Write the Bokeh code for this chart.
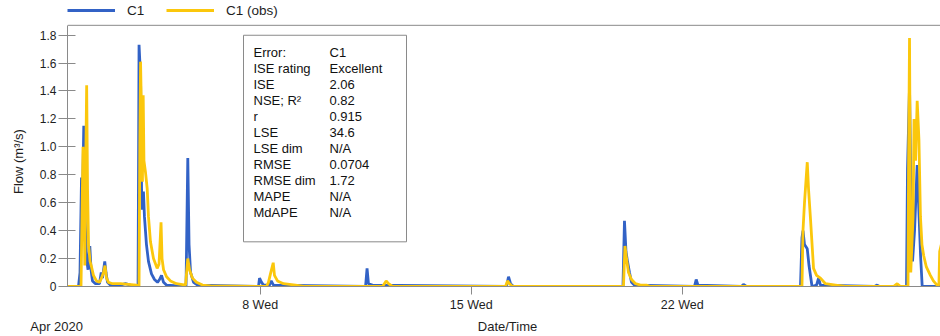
from bokeh.plotting import figure
from bokeh.models import Range1d, FixedTicker, Legend, LegendItem, Span, LinearAxis
from bokeh.core.properties import value
from bokeh.embed import file_html
from bokeh.resources import INLINE

# ---- data (hours since 2020-04-01 00:00, flow m3/s) ----
sim_hours = [15, 23.4, 24.6, 25.8, 26.6, 27.6, 28.6, 29.8, 31.0, 32.4, 33.4, 34.5, 36.9, 40.1, 41.5, 42.5,
             44.3, 45.3, 46.5, 48.9, 56.8, 60.8, 64.8, 70.8, 71.6, 72.8, 73.6, 74.3, 75.1, 75.9, 77.5,
             79.1, 81.5, 83.9, 86.3, 87.9, 89.5, 91.1, 93.4, 109.0, 110.4, 111.4, 112.6, 115.0, 118.2,
             166.7, 167.5, 169.1, 170.7, 175.4, 176.8, 178.6, 251.9, 253.1, 254.2, 257.4, 364.1, 365.7,
             367.3, 369.7, 456.8, 458.0, 459.2, 460.4, 462.0, 463.6, 466.0, 513.7, 515.1, 516.5, 551.1,
             552.7, 555.1, 598.1, 599.3, 600.1, 601.3, 603.5, 604.9, 607.3, 610.9, 612.5, 614.0, 657.0,
             659.1, 661.0, 682.5, 683.3, 684.9, 685.7, 686.5, 687.3, 688.9, 691.0, 692.1, 693.7, 695.0, 712]
sim_flow = [0, 0, 0.1, 0.78, 0.6, 1.15, 0.5, 0.2, 0.12, 0.29, 0.12, 0.04, 0.02, 0.02, 0.1, 0.06,
            0.18, 0.1, 0.03, 0.01, 0.01, 0.02, 0.01, 0, 1.73, 1.5, 0.7, 0.55, 0.68, 0.5, 0.3,
            0.18, 0.09, 0.05, 0.03, 0.05, 0.08, 0.03, 0.01, 0, 0.92, 0.3, 0.1, 0.03, 0.01,
            0, 0.06, 0.03, 0.01, 0.01, 0.04, 0.01, 0, 0.13, 0.02, 0.01, 0, 0.07,
            0.02, 0, 0, 0.47, 0.25, 0.18, 0.1, 0.03, 0.01, 0, 0.05, 0.01, 0,
            0.015, 0, 0, 0.35, 0.40, 0.30, 0.27, 0.15, 0, 0.01, 0.06, 0.01, 0,
            0.01, 0, 0, 0.84, 1.43, 0.9, 0.3, 0.18, 0.4, 0.87, 0.6, 0.22, 0, 0]

obs_hours = [14.6, 25.4, 26.2, 27.0, 27.8, 28.4, 29.2, 29.9, 30.6, 31.4, 32.6, 33.8, 35.3, 37.7, 40.1,
             41.7, 43.3, 44.5, 45.7, 47.3, 50.5, 56.8, 63.2, 69.6, 71.6, 72.2, 72.8, 73.6, 74.3, 74.9,
             75.5, 76.7, 78.1, 79.1, 80.7, 83.1, 86.0, 87.5, 89.1, 89.9, 91.1, 93.5, 96.6, 101.4,
             108.6, 110.4, 111.8, 114.1, 117.3, 122.1, 128.5, 173.1, 174.6, 176.2, 178.4, 179.4,
             181.8, 186.6, 196.1, 202.5, 265.4, 268.3, 270.2, 273.4, 363.3, 364.9, 366.5, 368.9,
             457.2, 458.4, 459.6, 461.2, 463.6, 466.8, 470.8, 475.5, 478.7, 599.3, 600.1, 601.3,
             603.5, 604.5, 606.1, 608.5, 610.9, 614.0, 618.0, 626.0, 633.9, 672.1, 675.1, 677.7,
             683.7, 684.1, 684.9, 685.9, 687.7, 688.5, 689.7, 691.0, 692.4, 693.6, 694.8, 696.2,
             698.3, 701.5, 703.9, 706.8, 708.3, 708.9, 710.2]
obs_flow = [0, 0, 0.5, 1.0, 0.6, 0.15, 0.9, 1.44, 0.7, 0.3, 0.18, 0.14, 0.08, 0.04, 0.03,
            0.06, 0.1, 0.15, 0.06, 0.03, 0.02, 0.02, 0.015, 0.01, 0.0, 1.0, 1.61, 1.2, 0.75, 1.37,
            0.9, 0.82, 0.7, 0.5, 0.32, 0.2, 0.13, 0.16, 0.46, 0.2, 0.12, 0.07, 0.04, 0.02,
            0.01, 0.2, 0.12, 0.06, 0.03, 0.01, 0.005, 0.0, 0.03, 0.09, 0.17, 0.08,
            0.04, 0.02, 0.01, 0, 0, 0.04, 0.02, 0, 0, 0.04, 0.02, 0,
            0, 0.29, 0.2, 0.1, 0.05, 0.02, 0.01, 0.01, 0, 0, 0.4, 0.6,
            0.89, 0.7, 0.48, 0.13, 0.08, 0.06, 0.02, 0.01, 0, 0, 0.02, 0,
            0, 0.8, 1.78, 0.1, 0.5, 1.2, 0.9, 1.33, 1.05, 0.5, 0.3, 0.22,
            0.14, 0.08, 0.04, 0.01, 0.01, 0.25, 0.3]

x_ticks = [8, 15, 22]
x_tick_labels = ["8 Wed", "15 Wed", "22 Wed"]
y_ticks = [0, 0.2, 0.4, 0.6, 0.8, 1.0, 1.2, 1.4, 1.6, 1.8]
month_label = "Apr 2020"
x_title = "Date/Time"
y_title = "Flow (m\u00b3/s)"

stat_names = ["Error:", "ISE rating", "ISE", "NSE; R\u00b2", "r", "LSE", "LSE dim", "RMSE",
              "RMSE dim", "MAPE", "MdAPE"]
stat_values = ["C1", "Excellent", "2.06", "0.82", "0.915", "34.6", "N/A", "0.0704", "1.72",
               "N/A", "N/A"]

# ---- layout constants ----
X0, X1 = 1.6103, 30.565
Y_AXIS_MAX = 1.87          # top border of the plot box
FRAME_BOTTOM = 288.0        # px of y=0 from the top of the canvas
PX_PER_UNIT = 263.0 / 1.87
Y_TOP = FRAME_BOTTOM / PX_PER_UNIT   # frame reaches the top of the canvas
PX_PER_DAY = 30.15
FONT = "Liberation Sans"
BLUE = "#3262c6"
YELLOW = "#fbc70c"
GREY = "#8a8a8a"
TXT = "#1e1e1e"
NB = "\u00a0"


def px_to_day(px):
    return 1 + (px - 48.6) / PX_PER_DAY


def px_to_val(py):
    return (FRAME_BOTTOM - py) / PX_PER_UNIT


p = figure(width=940, height=336, x_range=Range1d(X0, X1), y_range=Range1d(0, Y_TOP),
           output_backend="svg", toolbar_location=None, title=None,
           min_border_left=67, min_border_right=0, min_border_top=0, min_border_bottom=48)
p.xgrid.visible = False
p.ygrid.visible = False
p.outline_line_color = None
p.background_fill_color = "white"
p.border_fill_color = "white"

sim_x = [1 + h / 24.0 for h in sim_hours]
obs_x = [1 + h / 24.0 for h in obs_hours]
r_sim = p.line(sim_x, sim_flow, line_color=BLUE, line_width=2.8)
r_obs = p.line(obs_x, obs_flow, line_color=YELLOW, line_width=2.8)

# axes
p.xaxis.ticker = FixedTicker(ticks=x_ticks)
p.xaxis.major_label_overrides = dict(zip(x_ticks, x_tick_labels))
p.xaxis.minor_tick_line_color = None
p.xaxis.major_tick_in = 0
p.xaxis.major_tick_out = 8
p.xaxis.major_label_standoff = 3
p.yaxis.ticker = FixedTicker(ticks=y_ticks)
p.yaxis.major_label_overrides = {0: "0", 1: "1.0"}
p.yaxis.minor_tick_line_color = None
p.yaxis.major_tick_in = 8
p.yaxis.major_tick_out = 9
p.yaxis.major_label_standoff = 2
p.yaxis.bounds = (0, Y_AXIS_MAX)
p.yaxis.axis_label = y_title + NB * 10
p.yaxis.axis_label_standoff = 11

# second bottom axis carrying "Apr 2020" and "Date/Time" on one row
x_lab_ticks = [X0 + 1e-6, px_to_day(507)]
ax2 = LinearAxis(ticker=FixedTicker(ticks=x_lab_ticks),
                 major_label_overrides={x_lab_ticks[0]: month_label + NB * 6,
                                        x_lab_ticks[1]: x_title},
                 axis_line_color=None, major_tick_line_color=None, minor_tick_line_color=None,
                 major_tick_in=0, major_tick_out=0, major_label_standoff=4)
p.add_layout(ax2, "below")

for ax in (p.xaxis[0], p.yaxis[0], ax2):
    ax.major_label_text_font = FONT
    ax.major_label_text_font_size = "12.5px"
    ax.major_label_text_color = TXT
    ax.axis_label_text_font = FONT
    ax.axis_label_text_font_size = "13px"
    ax.axis_label_text_font_style = "normal"
    ax.axis_label_text_color = TXT
p.yaxis.major_label_text_font_size = "12px"
ax2.major_label_text_font_size = "13px"
for ax in (p.xaxis[0], p.yaxis[0]):
    ax.axis_line_color = GREY
    ax.major_tick_line_color = GREY

p.add_layout(Span(location=Y_AXIS_MAX, dimension="width", line_color=GREY, line_width=1))

# stats box
p.quad(left=[px_to_day(243)], right=[px_to_day(406)], top=[px_to_val(35)],
       bottom=[px_to_val(243)], fill_color="white", line_color=GREY, line_width=1)
row_y = [px_to_val(52.7 + i * 16.06) for i in range(len(stat_names))]
p.text(x=[px_to_day(253)] * len(stat_names), y=row_y, text=stat_names, text_font=value(FONT),
       text_font_size="13px", text_baseline="middle", text_align="left", text_color="#111111")
p.text(x=[px_to_day(329)] * len(stat_values), y=row_y, text=stat_values, text_font=value(FONT),
       text_font_size="13px", text_baseline="middle", text_align="left", text_color="#111111")

legend = Legend(items=[LegendItem(label="C1", renderers=[r_sim]),
                       LegendItem(label="C1 (obs)", renderers=[r_obs])],
                orientation="horizontal", location=(0, FRAME_BOTTOM - 20), padding=2, margin=0,
                spacing=19, glyph_width=48, glyph_height=16, label_height=16, label_standoff=12,
                label_text_font=FONT, label_text_font_size="13.5px", label_text_color=TXT,
                border_line_color=None, background_fill_alpha=0)
p.add_layout(legend)

open("out.html", "w").write(file_html(p, INLINE))
